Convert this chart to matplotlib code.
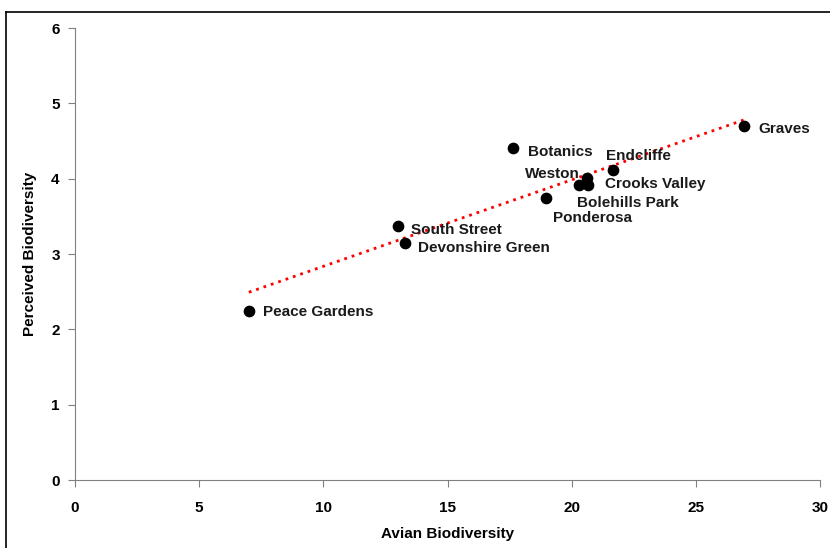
import numpy as np
import matplotlib
matplotlib.use("Agg")
import matplotlib.pyplot as plt
from matplotlib.lines import Line2D

# donnees
sites = ["Peace Gardens", "South Street", "Devonshire Green", "Botanics",
         "Ponderosa", "Bolehills Park", "Crooks Valley", "Weston",
         "Endcliffe", "Graves"]
avian = [7.0, 13.0, 13.3, 17.65, 18.95, 20.3, 20.65, 20.6, 21.65, 26.95]
perceived = [2.25, 3.37, 3.14, 4.41, 3.74, 3.91, 3.91, 4.01, 4.11, 4.70]

# decalage des etiquettes (pixels) et alignement
decalages = {
    "Peace Gardens": (14, -2, "left"),
    "South Street": (13, -4, "left"),
    "Devonshire Green": (13, -5, "left"),
    "Botanics": (15, -4, "left"),
    "Ponderosa": (7, -20, "left"),
    "Bolehills Park": (-2, -18, "left"),
    "Crooks Valley": (17, 1, "left"),
    "Weston": (-7, 4, "right"),
    "Endcliffe": (-7, 14, "left"),
    "Graves": (14, -3, "left"),
}

plt.rcParams["font.family"] = ["Liberation Sans", "DejaVu Sans"]
plt.rcParams["font.weight"] = "bold"

fig = plt.figure(figsize=(8.3, 5.48), dpi=100)
ax = fig.add_axes([75 / 830, 1 - 480 / 548, 745 / 830, 452 / 548])

# cadre exterieur (haut et gauche visibles)
fig.add_artist(Line2D([6 / 830, 6 / 830], [0, 1 - 12 / 548], color="black", lw=1.2))
fig.add_artist(Line2D([6 / 830, 1], [1 - 12 / 548, 1 - 12 / 548], color="black", lw=1.2))

# droite de tendance lineaire
pente, origine = np.polyfit(avian, perceived, 1)
xs = np.array([min(avian), max(avian)])
ax.plot(xs, pente * xs + origine, linestyle=(0, (1, 1.8)), color="red", lw=2, zorder=2)

ax.scatter(avian, perceived, s=55, color="black", zorder=3)

for nom, x, y in zip(sites, avian, perceived):
    dx, dy, ha = decalages[nom]
    ax.annotate(nom, (x, y), xytext=(dx, dy), textcoords="offset pixels",
                ha=ha, va="center", fontsize=11, fontweight="bold",
                color="#1a1a1a")

ax.set_xlim(0, 30)
ax.set_ylim(0, 6)
ax.set_xticks(range(0, 31, 5))
ax.set_yticks(range(0, 7))
for s in ["top", "right"]:
    ax.spines[s].set_visible(False)
for s in ["left", "bottom"]:
    ax.spines[s].set_color("#808080")
ax.tick_params(direction="out", length=5, color="#808080", labelsize=11, pad=6)
ax.tick_params(axis="x", pad=10)
for lab in ax.get_xticklabels() + ax.get_yticklabels():
    lab.set_fontweight("bold")

ax.set_xlabel("Avian Biodiversity", fontsize=11, fontweight="bold", labelpad=9)
ax.set_ylabel("Perceived Biodiversity", fontsize=11, fontweight="bold", labelpad=10)

fig.savefig("out.png", dpi=100)
